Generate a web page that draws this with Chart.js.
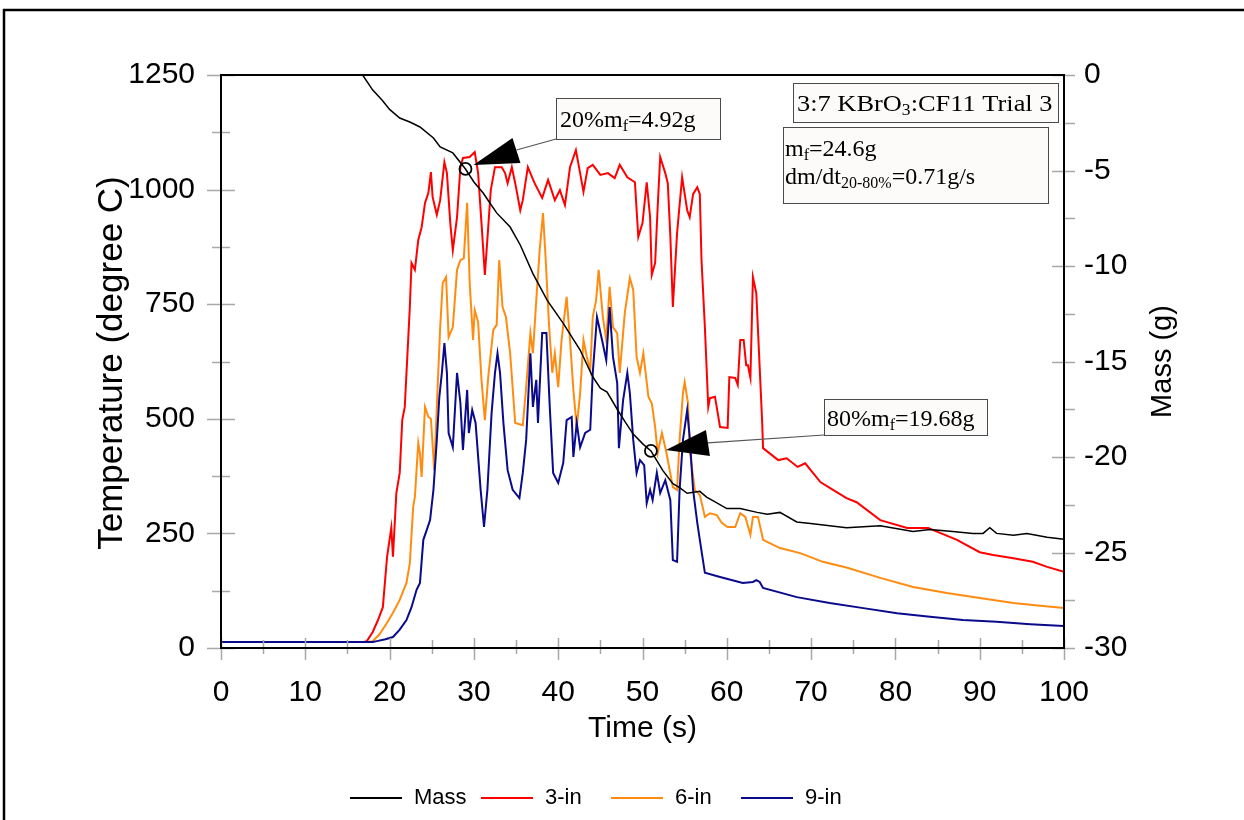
<!DOCTYPE html>
<html>
<head>
<meta charset="utf-8">
<script src="https://cdn.jsdelivr.net/npm/chart.js@4.4.0/dist/chart.umd.min.js"></script>
<style>
  html, body { margin: 0; padding: 0; background: #ffffff; }
  #wrap { width: 1244px; height: 820px; }
</style>
</head>
<body>
<div id="wrap"><canvas id="chart" width="1244" height="820"></canvas></div>
<script>
// ---- Data: time (s) and readings for each channel ----
const massTime = [0, 16.8, 18.0, 19.1, 20.0, 21.2, 22.4, 23.6, 25.2, 26.0, 27.5, 29.0, 30.0, 31.1, 31.9, 32.7, 34.3, 35.5, 37.0, 38.7, 40.6, 42.6, 44.1, 45.0, 45.8, 47.0, 48.0, 48.9, 50.0, 51.0, 52.4, 53.6, 54.4, 55.3, 56.8, 57.6, 58.4, 60.0, 61.6, 63.6, 64.8, 66.3, 68.3, 70.2, 74.2, 78.2, 82.1, 84.1, 86.8, 89.2, 90.4, 91.2, 92.0, 94.0, 95.6, 98.0, 100];
const massValues = [0, 0, -0.79, -1.31, -1.8, -2.25, -2.46, -2.72, -3.30, -3.77, -4.08, -4.92, -5.6, -6.18, -6.7, -7.22, -7.96, -8.9, -10.4, -11.8, -13.0, -14.4, -15.8, -16.4, -16.6, -17.5, -18.2, -18.8, -19.3, -19.68, -20.7, -21.4, -21.6, -21.9, -21.8, -22.1, -22.3, -22.7, -22.7, -22.9, -23.0, -22.9, -23.4, -23.5, -23.7, -23.6, -23.9, -23.8, -23.9, -24.0, -24.0, -23.7, -24.0, -24.1, -24.0, -24.2, -24.3];

const t3Time = [0, 17.0, 17.3, 18.0, 18.6, 19.2, 19.7, 20.2, 20.4, 20.8, 21.2, 21.5, 21.8, 22.1, 22.4, 22.6, 23.0, 23.4, 23.8, 24.2, 24.6, 24.9, 25.1, 25.6, 26.0, 26.5, 26.8, 27.2, 27.5, 28.0, 28.4, 28.7, 29.5, 30.1, 30.5, 30.9, 31.3, 31.7, 32.0, 32.5, 33.3, 33.7, 34.0, 34.5, 34.9, 35.5, 35.8, 36.4, 37.2, 38.1, 38.8, 39.6, 40.2, 40.8, 41.4, 42.1, 42.6, 43.0, 43.5, 44.1, 45.0, 45.9, 46.7, 47.3, 48.2, 49.1, 49.5, 50.0, 50.5, 50.9, 51.1, 51.5, 51.8, 52.1, 52.7, 53.0, 53.3, 53.6, 54.1, 54.7, 55.3, 55.6, 56.0, 56.5, 56.8, 57.0, 57.4, 57.8, 58.0, 58.6, 58.8, 59.2, 60.1, 60.3, 61.0, 61.3, 61.6, 62.0, 62.3, 62.5, 62.8, 63.1, 63.5, 64.2, 64.3, 66.1, 67.1, 68.4, 69.3, 71.1, 72.6, 74.2, 75.4, 78.2, 81.4, 83.9, 84.5, 87.3, 90.0, 91.6, 94.0, 96.3, 98.0, 100];
const t3Values = [13, 13, 15, 35, 60, 89, 199, 262, 199, 338, 382, 497, 526, 635, 744, 840, 825, 890, 918, 971, 993, 1038, 984, 945, 977, 1060, 1036, 927, 868, 940, 1049, 1069, 1071, 1082, 1036, 927, 814, 918, 999, 1049, 1049, 1036, 1014, 1049, 1014, 955, 977, 1049, 1014, 982, 1021, 977, 999, 966, 1049, 1086, 1036, 995, 1047, 1054, 1032, 1036, 1025, 1054, 1027, 1016, 897, 927, 1016, 940, 814, 840, 962, 1071, 1036, 1014, 900, 744, 905, 1027, 955, 940, 990, 1005, 990, 846, 700, 526, 545, 548, 526, 482, 480, 591, 589, 574, 672, 672, 617, 617, 589, 809, 774, 491, 436, 410, 414, 395, 403, 362, 345, 327, 318, 279, 262, 262, 257, 236, 209, 203, 196, 188, 177, 166];

const t6Time = [0, 17.5, 18.0, 18.8, 19.7, 20.5, 21.2, 22.0, 22.4, 22.8, 23.0, 23.4, 23.6, 23.8, 24.2, 24.6, 24.9, 25.3, 25.6, 26.0, 26.3, 26.7, 27.0, 27.5, 28.0, 28.4, 28.8, 29.2, 29.5, 29.9, 30.1, 30.5, 30.9, 31.3, 31.7, 32.3, 32.7, 33.0, 33.4, 33.8, 34.3, 34.9, 35.8, 36.2, 36.7, 37.0, 37.4, 37.8, 38.2, 38.5, 38.9, 39.3, 39.6, 40.0, 40.4, 41.0, 41.4, 41.8, 42.2, 42.6, 43.0, 43.4, 43.8, 44.1, 44.5, 44.8, 45.3, 45.7, 46.1, 46.5, 47.0, 47.3, 47.9, 48.5, 48.9, 49.3, 49.7, 50.1, 50.7, 51.1, 51.5, 51.8, 52.3, 52.7, 53.0, 53.6, 54.1, 54.4, 54.8, 55.0, 55.4, 55.6, 56.2, 56.8, 57.4, 58.0, 58.8, 59.4, 60.1, 61.0, 61.6, 62.2, 62.8, 63.1, 63.7, 64.3, 66.3, 68.7, 71.4, 74.3, 78.2, 82.1, 86.1, 90.0, 94.0, 97.2, 100];
const t6Values = [13, 13, 15, 30, 55, 80, 105, 142, 185, 308, 330, 447, 425, 373, 526, 504, 500, 388, 526, 700, 796, 809, 678, 700, 825, 846, 850, 971, 796, 672, 737, 711, 585, 497, 591, 694, 705, 846, 744, 722, 643, 491, 486, 569, 687, 643, 759, 868, 949, 853, 709, 600, 643, 569, 672, 766, 672, 563, 482, 556, 672, 635, 606, 722, 759, 825, 722, 672, 788, 700, 687, 600, 731, 807, 781, 635, 600, 643, 548, 534, 482, 425, 469, 438, 410, 351, 345, 454, 556, 580, 534, 432, 345, 334, 286, 294, 290, 273, 264, 264, 294, 286, 247, 286, 286, 236, 218, 207, 188, 175, 153, 133, 120, 109, 98, 92, 87];

const t9Time = [0, 18.0, 18.5, 19.5, 20.4, 21.2, 22.0, 22.6, 23.2, 23.6, 24.0, 24.4, 24.8, 25.2, 25.6, 25.9, 26.2, 26.5, 26.8, 27.0, 27.5, 28.0, 28.4, 28.7, 29.2, 29.4, 29.8, 30.2, 30.8, 31.2, 31.6, 32.1, 32.5, 32.8, 33.1, 33.5, 34.0, 34.6, 35.4, 35.8, 36.2, 36.7, 37.0, 37.4, 37.6, 38.1, 38.6, 39.0, 39.4, 40.0, 40.6, 41.0, 41.6, 41.8, 42.2, 42.6, 43.2, 43.8, 44.1, 44.6, 45.2, 45.7, 46.1, 46.5, 47.0, 47.2, 47.7, 48.2, 48.5, 48.9, 49.3, 49.7, 50.2, 50.5, 50.9, 51.2, 51.7, 52.1, 52.7, 53.3, 53.6, 54.1, 54.4, 54.8, 55.3, 55.6, 56.0, 56.5, 56.8, 57.4, 59.2, 61.9, 63.1, 63.5, 63.9, 64.3, 68.3, 72.2, 76.2, 80.2, 84.1, 88.0, 92.0, 96.0, 100];
const t9Values = [13, 13, 15, 19, 24, 40, 61, 89, 127, 142, 236, 257, 279, 345, 454, 548, 600, 665, 600, 469, 438, 600, 534, 432, 563, 469, 519, 491, 345, 264, 345, 513, 600, 643, 600, 491, 388, 345, 327, 382, 454, 643, 526, 585, 491, 687, 687, 526, 382, 360, 404, 497, 504, 417, 491, 438, 469, 476, 600, 722, 672, 628, 744, 635, 578, 436, 541, 600, 556, 454, 382, 410, 399, 316, 345, 323, 382, 338, 366, 323, 192, 188, 345, 454, 519, 460, 345, 273, 236, 164, 155, 142, 144, 148, 144, 131, 111, 98, 87, 76, 68, 61, 57, 52, 48];

// 20 % and 80 % of the fuel mass consumed
const markTime = [29.0, 51.0];
const markMass = [-4.92, -19.68];

// ---- Axis ticks ----
const timeTicks = [0, 10, 20, 30, 40, 50, 60, 70, 80, 90, 100];
const tempTicks = [0, 250, 500, 750, 1000, 1250];
const massTicks = [0, -5, -10, -15, -20, -25, -30];

const seriesNames = ['Mass', '3-in', '6-in', '9-in'];
const seriesColors = ['#000000', '#ff0000', '#ff8c10', '#0a0a8c'];

const toPoints = (xs, ys) => xs.map((x, i) => ({ x: x, y: ys[i] }));

const SANS = '"Liberation Sans", Arial, sans-serif';
const SERIF = '"Liberation Serif", "Times New Roman", serif';

// Draw a line of text made of runs (normal / subscript), optionally widened
function drawRuns(ctx, x, y, runs, widen) {
  const k = widen || 1;
  ctx.save();
  ctx.translate(x, y);
  ctx.scale(k, 1);
  let cx = 0;
  runs.forEach(r => {
    ctx.font = r[1] + 'px ' + SERIF;
    ctx.fillText(r[0], cx, r[2] || 0);
    cx += ctx.measureText(r[0]).width;
  });
  ctx.restore();
}

function textBox(ctx, x, y, w, h) {
  ctx.save();
  ctx.fillStyle = '#fcfbf9';
  ctx.strokeStyle = '#4a4a4a';
  ctx.lineWidth = 1;
  ctx.fillRect(x + 0.5, y + 0.5, w, h);
  ctx.strokeRect(x + 0.5, y + 0.5, w, h);
  ctx.restore();
}

const decorations = {
  id: 'decorations',
  afterDatasetsDraw(chart) {
    const ctx = chart.ctx;
    const a = chart.chartArea;
    const sx = chart.scales.x, sT = chart.scales.yTemp, sM = chart.scales.yMass;
    ctx.save();

    // outer frame
    ctx.strokeStyle = '#000';
    ctx.lineWidth = 2.5;
    ctx.beginPath();
    ctx.moveTo(4, 822); ctx.lineTo(4, 10); ctx.lineTo(1246, 10);
    ctx.stroke();

    // tick marks
    ctx.strokeStyle = '#a8a8a8';
    ctx.lineWidth = 1.5;
    ctx.beginPath();
    for (let v = 0; v <= 1250; v += 125) {
      const y = Math.round(sT.getPixelForValue(v)) + 0.5;
      const major = v % 250 === 0;
      ctx.moveTo(a.left - (major ? 14 : 9), y);
      ctx.lineTo(a.left + (major ? 14 : 9), y);
    }
    for (let v = 0; v <= 100; v += 5) {
      const x = Math.round(sx.getPixelForValue(v)) + 0.5;
      const major = v % 10 === 0;
      ctx.moveTo(x, a.bottom - (major ? 10 : 8));
      ctx.lineTo(x, a.bottom + (major ? 12 : 6));
    }
    for (let v = 0; v >= -30; v -= 2.5) {
      const y = Math.round(sM.getPixelForValue(v)) + 0.5;
      const major = v % 5 === 0;
      ctx.moveTo(a.right - (major ? 12 : 0), y);
      ctx.lineTo(a.right + 11, y);
    }
    ctx.stroke();

    // plot frame
    ctx.strokeStyle = '#000';
    ctx.lineWidth = 2;
    ctx.strokeRect(a.left, a.top, a.right - a.left, a.bottom - a.top);

    // tick labels
    ctx.fillStyle = '#000';
    ctx.font = '30px ' + SANS;
    ctx.textBaseline = 'middle';
    ctx.textAlign = 'right';
    tempTicks.forEach(v => ctx.fillText(String(v), a.left - 26, sT.getPixelForValue(v)));
    ctx.textAlign = 'left';
    massTicks.forEach(v => ctx.fillText(String(v), a.right + 20, sM.getPixelForValue(v)));
    ctx.textAlign = 'center';
    timeTicks.forEach(v => ctx.fillText(String(v), sx.getPixelForValue(v), a.bottom + 45));

    // axis titles
    ctx.font = '30px ' + SANS;
    ctx.fillText('Time (s)', (a.left + a.right) / 2, a.bottom + 81);
    ctx.save();
    ctx.translate(112, 363);
    ctx.rotate(-Math.PI / 2);
    ctx.font = '35px ' + SANS;
    ctx.fillText('Temperature (degree C)', 0, 0);
    ctx.restore();
    ctx.save();
    ctx.translate(1163, (a.top + a.bottom) / 2);
    ctx.rotate(-Math.PI / 2);
    ctx.font = '29px ' + SANS;
    ctx.fillText('Mass (g)', 0, 0);
    ctx.restore();

    // legend
    const legendX = [350, 481, 611, 741];
    ctx.font = '22px ' + SANS;
    ctx.textAlign = 'left';
    seriesNames.forEach((n, i) => {
      ctx.strokeStyle = seriesColors[i];
      ctx.lineWidth = 2;
      ctx.beginPath();
      ctx.moveTo(legendX[i], 798);
      ctx.lineTo(legendX[i] + 52, 798);
      ctx.stroke();
      ctx.fillText(n, legendX[i] + 64, 798);
    });

    // annotation arrows pointing at the 20 % / 80 % markers
    const arrows = [
      { tri: [[8, -4], [47, -31], [55, -6]], lead: [51, -19], box: [556, 98, 164, 41] },
      { tri: [[15, -1], [55, -21], [59, 5]], lead: [57, -8], box: [824, 399, 163, 36] }
    ];
    arrows.forEach((ar, i) => {
      const px = sx.getPixelForValue(markTime[i]);
      const py = sM.getPixelForValue(markMass[i]);
      ctx.strokeStyle = '#555';
      ctx.lineWidth = 1.2;
      ctx.beginPath();
      ctx.moveTo(px + ar.lead[0], py + ar.lead[1]);
      ctx.lineTo(ar.box[0], ar.box[1] + ar.box[3]);
      ctx.stroke();
      ctx.fillStyle = '#000';
      ctx.beginPath();
      ctx.moveTo(px + ar.tri[0][0], py + ar.tri[0][1]);
      ctx.lineTo(px + ar.tri[1][0], py + ar.tri[1][1]);
      ctx.lineTo(px + ar.tri[2][0], py + ar.tri[2][1]);
      ctx.closePath();
      ctx.fill();
    });

    // annotation boxes
    ctx.textBaseline = 'alphabetic';
    ctx.textAlign = 'left';
    textBox(ctx, 556, 98, 164, 41);
    ctx.fillStyle = '#000';
    drawRuns(ctx, 560, 127, [['20%m', 24], ['f', 16, 4], ['=4.92g', 24]]);
    textBox(ctx, 824, 399, 163, 36);
    ctx.fillStyle = '#000';
    drawRuns(ctx, 827, 426, [['80%m', 24], ['f', 16, 4], ['=19.68g', 24]]);
    textBox(ctx, 793, 83, 265, 39);
    ctx.fillStyle = '#000';
    drawRuns(ctx, 797, 111, [['3:7 KBrO', 24], ['3', 16, 4], [':CF11 Trial 3', 24]], 1.1);
    textBox(ctx, 783, 127, 265, 76);
    ctx.fillStyle = '#000';
    drawRuns(ctx, 785, 156, [['m', 24], ['f', 16, 4], ['=24.6g', 24]]);
    drawRuns(ctx, 785, 184, [['dm/dt', 24], ['20-80%', 16, 4], ['=0.71g/s', 24]]);

    ctx.restore();
  }
};

const lineSet = (i, xs, ys, axis, width) => ({
  label: seriesNames[i],
  data: toPoints(xs, ys),
  yAxisID: axis,
  borderColor: seriesColors[i],
  borderWidth: width,
  pointRadius: 0,
  tension: 0,
  fill: false
});

new Chart(document.getElementById('chart'), {
  type: 'line',
  data: {
    datasets: [
      {
        label: 'markers',
        data: toPoints(markTime, markMass),
        yAxisID: 'yMass',
        showLine: false,
        pointRadius: 6,
        pointBorderWidth: 1.8,
        pointBorderColor: '#000',
        pointBackgroundColor: 'rgba(0,0,0,0)'
      },
      lineSet(0, massTime, massValues, 'yMass', 1.5),
      lineSet(3, t9Time, t9Values, 'yTemp', 2),
      lineSet(2, t6Time, t6Values, 'yTemp', 2),
      lineSet(1, t3Time, t3Values, 'yTemp', 2)
    ]
  },
  options: {
    responsive: false,
    animation: false,
    events: [],
    layout: { padding: { left: 221, right: 180, top: 75, bottom: 172 } },
    plugins: { legend: { display: false }, tooltip: { enabled: false } },
    scales: {
      x: { type: 'linear', min: 0, max: 100, display: false },
      yTemp: { type: 'linear', min: 0, max: 1250, display: false },
      yMass: { type: 'linear', min: -30, max: 0, display: false }
    }
  },
  plugins: [decorations]
});
</script>
</body>
</html>
